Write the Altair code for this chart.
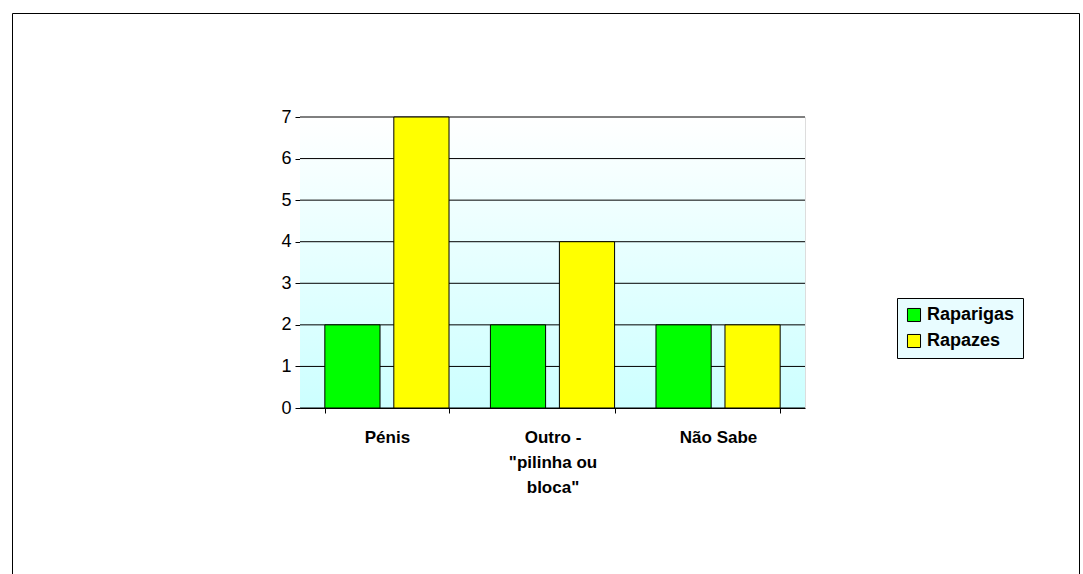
import altair as alt
import pandas as pd

categories = ["Pénis", "Outro -|\"pilinha ou|bloca\"", "Não Sabe"]
raparigas = [2, 2, 2]
rapazes = [7, 4, 2]
series = ["Raparigas", "Rapazes"]
colors = ["#00FF00", "#FFFF00"]
y_ticks = [0, 1, 2, 3, 4, 5, 6, 7]

rows = []
for c, g, b in zip(categories, raparigas, rapazes):
    rows.append({"cat": c, "serie": "Raparigas", "v": g})
    rows.append({"cat": c, "serie": "Rapazes", "v": b})
df = pd.DataFrame(rows)
grid_df = pd.DataFrame({"t": y_ticks})

W, H = 505, 291

yscale = alt.Scale(domain=[0, 7], nice=False)
yaxis = alt.Axis(values=y_ticks, labelFont="Liberation Sans",
                 labelFontSize=18, labelColor="black", domainColor="black",
                 tickColor="black", grid=False, labelPadding=4)

bg = alt.Chart(pd.DataFrame({"a": [0]})).mark_rect(
    color=alt.Gradient(
        gradient="linear", x1=0, y1=0, x2=0, y2=1,
        stops=[alt.GradientStop(color="#FFFFFF", offset=0),
               alt.GradientStop(color="#CCFFFF", offset=1)]
    )
).encode(x=alt.value(0), x2=alt.value(W), y=alt.value(0), y2=alt.value(H))

frame = alt.Chart(pd.DataFrame({"a": [0]})).mark_rect(
    fill=None, stroke="black", strokeWidth=1
).encode(x=alt.value(-287.5), x2=alt.value(779.5), y=alt.value(-103.5), y2=alt.value(470))

grid = alt.Chart(grid_df).mark_rule(color="black", strokeWidth=1).encode(
    y=alt.Y("t:Q", scale=yscale, title=None, axis=yaxis),
    x=alt.value(0), x2=alt.value(W),
)

bars = alt.Chart(df).mark_bar(stroke="black", strokeWidth=1).encode(
    x=alt.X("cat:N", sort=categories, title=None,
            scale=alt.Scale(paddingInner=0.25, paddingOuter=0.15),
            axis=alt.Axis(labelAngle=0, labelExpr="split(datum.label, '|')",
                          labelFont="Liberation Sans", labelFontSize=17,
                          labelFontWeight="bold", labelColor="black",
                          labelPadding=16, labelLineHeight=25,
                          domainColor="black", tickColor="black",
                          tickBand="extent", labelBaseline="top")),
    xOffset=alt.XOffset("serie:N", sort=series, scale=alt.Scale(paddingInner=0.2)),
    y=alt.Y("v:Q", title=None, scale=yscale, axis=yaxis),
    color=alt.Color("serie:N", sort=series,
                    scale=alt.Scale(domain=series, range=colors),
                    legend=alt.Legend(title=None, orient="none", legendX=597, legendY=181,
                                      labelFont="Liberation Sans", labelFontSize=18,
                                      labelFontWeight="bold", labelColor="black",
                                      symbolType="square", symbolSize=170,
                                      symbolStrokeColor="black", symbolStrokeWidth=1,
                                      strokeColor="black", fillColor="#E8FCFF",
                                      padding=8, rowPadding=8)),
)

chart = alt.layer(frame, bg, grid, bars).properties(
    width=W, height=H,
    autosize=alt.AutoSizeParams(type="none"),
    padding={"left": 300, "top": 117, "right": 278, "bottom": 166},
).configure_view(stroke="black").configure(background="white")

chart.save("out.html", embed_options={"renderer": "svg", "actions": False})
